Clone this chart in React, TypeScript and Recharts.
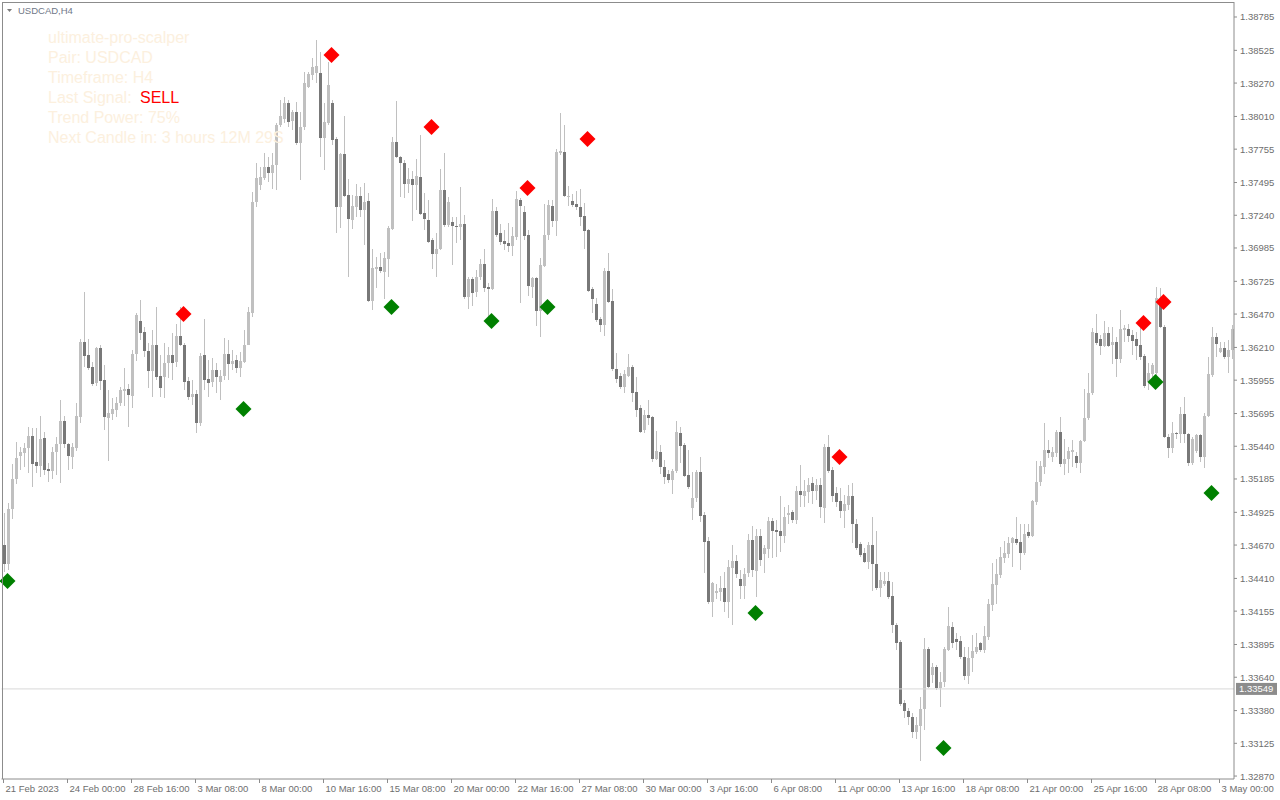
import React from "react";
import { ComposedChart, Bar, Line, XAxis, YAxis, ReferenceLine } from "recharts";

// ---- Candle data (USDCAD H4) ----
const opens = [
1.34670,1.34522,1.34951,1.35185,1.35364,1.35388,1.35426,1.35519,1.35317,1.35286,
1.35504,1.35263,1.35247,1.35395,1.35457,1.35636,1.35457,1.35356,1.35426,1.35667,
1.36252,1.36151,1.36057,1.35933,1.36206,1.35956,1.35660,1.35691,1.35722,1.35777,
1.35870,1.35886,1.35831,1.36159,1.36416,1.36330,1.36182,1.36026,1.36229,1.35987,
1.35979,1.36089,1.36151,1.36096,1.36299,1.36229,1.35948,1.35823,1.35847,1.35621,
1.36151,1.35964,1.35940,1.36034,1.35940,1.35987,1.36159,1.36081,1.36112,1.36050,
1.36096,1.36229,1.36478,1.37343,1.37476,1.37531,1.37615,1.37570,1.37631,1.37943,
1.37990,1.38115,1.37974,1.38044,1.37803,1.37927,1.38239,1.38333,1.38349,1.38349,
1.37842,1.37959,1.38115,1.37834,1.37304,1.37717,1.37398,1.37203,1.37304,1.37390,
1.37281,1.37351,1.36571,1.36821,1.36836,1.36797,1.36899,1.37133,1.37810,1.37693,
1.37647,1.37484,1.37523,1.37476,1.37538,1.37258,1.37203,1.37047,1.36938,1.36977,
1.37437,1.37164,1.37187,1.37156,1.37148,1.37172,1.36602,1.36743,1.36641,1.36758,
1.36860,1.36680,1.36665,1.37273,1.37102,1.37039,1.37024,1.37000,1.37070,1.37359,
1.37265,1.37086,1.36680,1.36751,1.36493,1.36844,1.37086,1.37312,1.37195,1.37725,
1.37732,1.37382,1.37351,1.37328,1.37304,1.37234,1.37125,1.36665,1.36548,1.36431,
1.36385,1.36805,1.36571,1.36042,1.35987,1.35901,1.35987,1.36057,1.35862,1.35738,
1.35566,1.35683,1.35667,1.35341,1.35395,1.35278,1.35224,1.35177,1.35247,1.35543,
1.35449,1.35216,1.34959,1.35037,1.35239,1.34904,1.34701,1.34226,1.34296,1.34303,
1.34335,1.34226,1.34490,1.34545,1.34405,1.34350,1.34452,1.34709,1.34467,1.34740,
1.34600,1.34639,1.34857,1.34787,1.34779,1.34740,1.34904,1.34928,1.34865,1.35091,
1.35052,1.35083,1.35154,1.35091,1.35138,1.34959,1.35433,1.35255,1.35076,1.35013,
1.34935,1.34982,1.35052,1.34834,1.34678,1.34608,1.34537,1.34670,1.34522,1.34335,
1.34366,1.34389,1.34273,1.34047,1.33914,1.33439,1.33376,1.33329,1.33212,1.33259,
1.33392,1.33860,1.33657,1.33719,1.33556,1.33602,1.33852,1.34031,1.33938,1.33922,
1.33798,1.33649,1.33790,1.33837,1.33907,1.33852,1.33954,1.34203,1.34358,1.34436,
1.34569,1.34600,1.34686,1.34717,1.34693,1.34608,1.34771,1.34740,1.35005,1.35161,
1.35278,1.35411,1.35356,1.35388,1.35550,1.35302,1.35341,1.35395,1.35364,1.35310,
1.35480,1.35660,1.35855,1.36323,1.36276,1.36221,1.36323,1.36229,1.36252,1.36120,
1.36346,1.36354,1.36307,1.36276,1.36229,1.36143,1.35940,1.36003,1.36011,1.36556,
1.36369,1.35511,1.35426,1.35543,1.35535,1.35691,1.35535,1.35310,1.35403,1.35527,
1.35356,1.35675,1.35995,1.36291,1.36174,1.36206,1.36135,1.36190,
];
const highs = [
1.34920,1.34998,1.35302,1.35472,1.35433,1.35465,1.35589,1.35582,1.35582,1.35675,
1.35550,1.35310,1.35433,1.35511,1.35800,1.35675,1.35465,1.35465,1.35777,1.36276,
1.36641,1.36276,1.36096,1.36213,1.36229,1.36073,1.35878,1.35816,1.35823,1.35901,
1.36050,1.35925,1.36190,1.36478,1.36579,1.36369,1.36245,1.36346,1.36524,1.36151,
1.36245,1.36213,1.36323,1.36393,1.36524,1.36245,1.35979,1.35956,1.35878,1.36167,
1.36431,1.36112,1.36128,1.36089,1.36034,1.36284,1.36268,1.36190,1.36151,1.36174,
1.36346,1.36524,1.37421,1.37647,1.37615,1.37725,1.37693,1.37725,1.37959,1.38138,
1.38161,1.38138,1.38060,1.38122,1.38044,1.38356,1.38356,1.38466,1.38606,1.38512,
1.38115,1.38434,1.38138,1.37849,1.37725,1.38013,1.37523,1.37398,1.37484,1.37460,
1.37492,1.37414,1.36977,1.36914,1.36946,1.36953,1.37156,1.37849,1.38130,1.37701,
1.37670,1.37608,1.37585,1.37678,1.37865,1.37414,1.37359,1.37063,1.37102,1.37600,
1.37725,1.37382,1.37226,1.37226,1.37460,1.37242,1.36758,1.36758,1.36813,1.36899,
1.36977,1.36712,1.37367,1.37304,1.37172,1.37125,1.37180,1.37148,1.37429,1.37375,
1.37312,1.37125,1.36758,1.36758,1.36907,1.37328,1.37359,1.37359,1.37756,1.38037,
1.37943,1.37468,1.37406,1.37429,1.37445,1.37336,1.37133,1.36680,1.36595,1.36446,
1.36829,1.36946,1.36665,1.36167,1.36011,1.36034,1.36159,1.36073,1.35979,1.35761,
1.35722,1.35800,1.35675,1.35558,1.35449,1.35333,1.35255,1.35263,1.35636,1.35589,
1.35465,1.35411,1.35239,1.35255,1.35356,1.34928,1.34732,1.34381,1.34366,1.34428,
1.34459,1.34553,1.34670,1.34592,1.34475,1.34490,1.34756,1.34818,1.34795,1.34795,
1.34670,1.34888,1.34881,1.34865,1.35052,1.34966,1.34982,1.34943,1.35130,1.35294,
1.35177,1.35193,1.35200,1.35185,1.35193,1.35457,1.35527,1.35278,1.35122,1.35115,
1.35060,1.35138,1.35154,1.34873,1.34693,1.34647,1.34693,1.34888,1.34779,1.34459,
1.34459,1.34459,1.34381,1.34063,1.33930,1.33462,1.33400,1.33361,1.33329,1.33485,
1.33946,1.33876,1.33751,1.33735,1.33680,1.33876,1.34187,1.34070,1.33985,1.33961,
1.33876,1.33876,1.33969,1.33985,1.33914,1.34039,1.34249,1.34530,1.34561,1.34654,
1.34701,1.34732,1.34732,1.34888,1.34834,1.34834,1.34834,1.35021,1.35325,1.35325,
1.35621,1.35488,1.35433,1.35566,1.35667,1.35496,1.35433,1.35488,1.35395,1.35488,
1.35886,1.36011,1.36361,1.36470,1.36307,1.36416,1.36369,1.36369,1.36291,1.36501,
1.36385,1.36393,1.36346,1.36330,1.36385,1.36159,1.36089,1.36089,1.36680,1.36673,
1.36385,1.35535,1.35629,1.35550,1.35745,1.35823,1.35543,1.35511,1.35535,1.35535,
1.35699,1.36135,1.36369,1.36323,1.36252,1.36252,1.36268,1.36385,
];
const lows = [
1.34459,1.34475,1.34873,1.35146,1.35255,1.35278,1.35232,1.35122,1.35232,1.35200,
1.35216,1.35161,1.35185,1.35216,1.35154,1.35426,1.35255,1.35263,1.35403,1.35621,
1.36057,1.36034,1.35909,1.35909,1.35878,1.35566,1.35325,1.35644,1.35667,1.35753,
1.35753,1.35589,1.35738,1.36104,1.36268,1.36135,1.35894,1.35823,1.35956,1.35823,
1.35816,1.35972,1.35956,1.36057,1.36221,1.35878,1.35800,1.35761,1.35543,1.35597,
1.35878,1.35823,1.35901,1.35855,1.35800,1.35956,1.35956,1.36034,1.36011,1.35979,
1.36089,1.36291,1.36446,1.37304,1.37437,1.37515,1.37499,1.37445,1.37437,1.37927,
1.37959,1.37927,1.37904,1.37787,1.37515,1.37904,1.38232,1.38294,1.38271,1.37693,
1.37593,1.37943,1.37787,1.37102,1.37141,1.37382,1.36758,1.37133,1.37226,1.37226,
1.37008,1.36563,1.36501,1.36673,1.36790,1.36587,1.36758,1.37125,1.37686,1.37382,
1.37375,1.37414,1.37195,1.37281,1.37242,1.37125,1.37024,1.36821,1.36758,1.36969,
1.37148,1.37148,1.36852,1.37024,1.37047,1.36587,1.36509,1.36532,1.36602,1.36735,
1.36641,1.36446,1.36657,1.37070,1.37008,1.36969,1.36953,1.36922,1.37047,1.36556,
1.37047,1.36610,1.36595,1.36377,1.36291,1.36836,1.37047,1.37148,1.37078,1.37709,
1.37382,1.37312,1.37304,1.37281,1.37156,1.36977,1.36641,1.36478,1.36408,1.36330,
1.36299,1.36556,1.36026,1.35933,1.35886,1.35855,1.35979,1.35784,1.35667,1.35543,
1.35543,1.35605,1.35317,1.35333,1.35224,1.35146,1.35154,1.35068,1.35232,1.35310,
1.35200,1.35107,1.34865,1.35005,1.34849,1.34452,1.34211,1.34109,1.34249,1.34234,
1.34148,1.34101,1.34047,1.34413,1.34249,1.34249,1.34420,1.34420,1.34265,1.34506,
1.34452,1.34569,1.34569,1.34576,1.34615,1.34686,1.34834,1.34841,1.34834,1.34966,
1.34966,1.34998,1.34990,1.35021,1.34881,1.34841,1.35232,1.35005,1.34966,1.34881,
1.34803,1.34943,1.34686,1.34631,1.34576,1.34530,1.34483,1.34311,1.34319,1.34265,
1.34350,1.34249,1.33985,1.33852,1.33415,1.33321,1.33267,1.33166,1.33158,1.32987,
1.33228,1.33556,1.33594,1.33540,1.33407,1.33563,1.33844,1.33868,1.33852,1.33782,
1.33618,1.33587,1.33680,1.33821,1.33837,1.33829,1.33930,1.34156,1.34211,1.34413,
1.34530,1.34569,1.34498,1.34670,1.34475,1.34592,1.34724,1.34732,1.34982,1.35130,
1.35224,1.35349,1.35317,1.35356,1.35278,1.35216,1.35232,1.35278,1.35270,1.35232,
1.35472,1.35644,1.35839,1.36229,1.36151,1.36213,1.36213,1.36081,1.35979,1.36089,
1.36252,1.36252,1.36151,1.36112,1.36112,1.35894,1.35878,1.35979,1.35972,1.36361,
1.35504,1.35349,1.35388,1.35496,1.35465,1.35465,1.35286,1.35294,1.35388,1.35317,
1.35270,1.35667,1.35979,1.36135,1.36167,1.36120,1.36011,1.36120,
];
const closes = [
1.34522,1.34951,1.35185,1.35349,1.35395,1.35426,1.35519,1.35302,1.35286,1.35496,
1.35255,1.35247,1.35395,1.35457,1.35636,1.35457,1.35364,1.35433,1.35675,1.36252,
1.36143,1.36050,1.35925,1.36206,1.35948,1.35667,1.35699,1.35730,1.35777,1.35878,
1.35886,1.35839,1.36159,1.36462,1.36323,1.36182,1.36026,1.36229,1.35979,1.35894,
1.36089,1.36151,1.36089,1.36299,1.36229,1.35940,1.35823,1.35847,1.35621,1.36143,
1.35956,1.35933,1.36034,1.35979,1.35987,1.36159,1.36081,1.36104,1.36050,1.36104,
1.36229,1.36485,1.37343,1.37531,1.37538,1.37615,1.37570,1.37631,1.37943,1.38013,
1.38115,1.37966,1.38044,1.37803,1.37927,1.38271,1.38341,1.38395,1.38403,1.37842,
1.37966,1.38255,1.37826,1.37304,1.37717,1.37390,1.37211,1.37312,1.37390,1.37281,
1.37343,1.36571,1.36829,1.36836,1.36805,1.36907,1.37141,1.37810,1.37693,1.37647,
1.37484,1.37523,1.37476,1.37546,1.37250,1.37211,1.37031,1.36938,1.36977,1.37437,
1.37164,1.37343,1.37156,1.37148,1.37172,1.36602,1.36743,1.36634,1.36758,1.36860,
1.36673,1.36665,1.37273,1.37086,1.37031,1.37016,1.37000,1.37078,1.37367,1.37312,
1.37078,1.36688,1.36751,1.36493,1.36852,1.37086,1.37320,1.37195,1.37732,1.37740,
1.37390,1.37390,1.37320,1.37304,1.37226,1.37117,1.36649,1.36587,1.36424,1.36385,
1.36805,1.36563,1.36042,1.35964,1.35901,1.36003,1.36057,1.35855,1.35722,1.35550,
1.35683,1.35660,1.35341,1.35403,1.35278,1.35200,1.35177,1.35247,1.35550,1.35441,
1.35208,1.35122,1.35037,1.35239,1.34896,1.34693,1.34226,1.34374,1.34311,1.34335,
1.34226,1.34498,1.34545,1.34444,1.34350,1.34444,1.34709,1.34475,1.34740,1.34553,
1.34647,1.34857,1.34779,1.34771,1.34740,1.34888,1.34920,1.34865,1.35091,1.35060,
1.35091,1.35138,1.35091,1.35138,1.34966,1.35433,1.35247,1.35052,1.35005,1.34935,
1.34990,1.35052,1.34834,1.34647,1.34592,1.34537,1.34670,1.34522,1.34335,1.34397,
1.34389,1.34265,1.34047,1.33907,1.33431,1.33376,1.33329,1.33212,1.33267,1.33392,
1.33860,1.33563,1.33719,1.33556,1.33602,1.33860,1.34039,1.33907,1.33914,1.33798,
1.33649,1.33790,1.33844,1.33876,1.33852,1.33961,1.34211,1.34366,1.34444,1.34576,
1.34608,1.34686,1.34725,1.34686,1.34608,1.34756,1.34740,1.35013,1.35161,1.35286,
1.35411,1.35388,1.35395,1.35550,1.35302,1.35341,1.35403,1.35411,1.35310,1.35480,
1.35660,1.35855,1.36330,1.36245,1.36221,1.36323,1.36221,1.36252,1.36120,1.36354,
1.36361,1.36299,1.36260,1.36221,1.36135,1.35909,1.36011,1.36073,1.36595,1.36369,
1.35511,1.35426,1.35543,1.35535,1.35691,1.35535,1.35310,1.35496,1.35527,1.35356,
1.35675,1.36003,1.36291,1.36237,1.36206,1.36135,1.36190,1.36354,
];

// ---- Signals (diamonds) ----
const sellIdx = [45, 82, 107, 131, 146, 209, 285, 290];
const sellPrice = [1.36470, 1.38489, 1.37928, 1.37452, 1.37834, 1.35356, 1.36400, 1.36564];
const buyIdx = [1, 60, 97, 122, 136, 188, 235, 288, 302];
const buyPrice = [1.34390, 1.35730, 1.36525, 1.36416, 1.36525, 1.34140, 1.33088, 1.35940, 1.35075];

// ---- Axes ----
const xTickLabels = [
  "21 Feb 2023", "24 Feb 00:00", "28 Feb 16:00", "3 Mar 08:00", "8 Mar 00:00",
  "10 Mar 16:00", "15 Mar 08:00", "20 Mar 00:00", "22 Mar 16:00", "27 Mar 08:00",
  "30 Mar 00:00", "3 Apr 16:00", "6 Apr 08:00", "11 Apr 00:00", "13 Apr 16:00",
  "18 Apr 08:00", "21 Apr 00:00", "25 Apr 16:00", "28 Apr 08:00", "3 May 00:00",
];
const yTicks = [
  1.38785, 1.38525, 1.3827, 1.3801, 1.37755, 1.37495, 1.3724, 1.36985, 1.36725,
  1.3647, 1.3621, 1.35955, 1.35695, 1.3544, 1.35185, 1.34925, 1.3467, 1.3441,
  1.34155, 1.33895, 1.3364, 1.3338, 1.33125, 1.3287,
];
const bidPrice = 1.33549;
const Y_MIN = 1.32847;
const Y_MAX = 1.38894;

const infoLines = [
  "ultimate-pro-scalper",
  "Pair: USDCAD",
  "Timeframe: H4",
  "Last Signal: ",
  "Trend Power: 75%",
  "Next Candle in: 3 hours 12M 29S",
];

const WICK = "#c0c0c0";
const BULL = "#c0c0c0";
const BEAR = "#787878";
const AXIS = "#8c8c8c";
const LABEL = "#6e6e6e";
const INFO = "#fcf0de";
const FONT = "'Liberation Sans', Arial, sans-serif";

type Row = { i: number; o: number; h: number; l: number; c: number; sell: number | null; buy: number | null };

const data: Row[] = opens.map((o, i) => ({
  i,
  o,
  h: highs[i],
  l: lows[i],
  c: closes[i],
  sell: null,
  buy: null,
}));
sellIdx.forEach((idx, k) => {
  data[idx].sell = sellPrice[k];
});
buyIdx.forEach((idx, k) => {
  data[idx].buy = buyPrice[k];
});

function Candle(props: any) {
  const { x, y, width, height, payload } = props;
  if (x == null || y == null || !payload) return <g />;
  const { o, h, l, c } = payload as Row;
  const top0 = Math.min(y, y + height);
  const hgt = Math.abs(height);
  const cx = Math.floor(x + width / 2);
  const span = h - l;
  const py = (v: number) => (span > 0 ? top0 + ((h - v) / span) * hgt : top0);
  const bull = c >= o;
  const bt = Math.round(py(Math.max(o, c)));
  const bb = Math.round(py(Math.min(o, c)));
  const wt = Math.round(top0);
  const wb = Math.round(top0 + hgt);
  return (
    <g>
      <rect x={cx} y={wt} width={1} height={Math.max(1, wb - wt)} fill={WICK} />
      <rect x={cx - 1} y={bt} width={3} height={Math.max(1, bb - bt)} fill={bull ? BULL : BEAR} />
    </g>
  );
}

const makeDiamond = (color: string, key: "sell" | "buy") => (props: any) => {
  const { cx, cy, index, payload } = props;
  if (!payload || payload[key] == null || cy == null || isNaN(cy)) return <g key={`${key}-${index}`} />;
  const r = 8;
  const pts = `${cx},${cy - r} ${cx + r},${cy} ${cx},${cy + r} ${cx - r},${cy}`;
  return <polygon key={`${key}-${index}`} points={pts} fill={color} />;
};

function XTick(props: any) {
  const { x, y, payload } = props;
  const label = xTickLabels[Math.round(payload.value / 16)] ?? "";
  return (
    <text x={x + 2} y={y + 9} fontSize={9.5} fontFamily={FONT} fill={LABEL} textAnchor="start">
      {label}
    </text>
  );
}

function YTick(props: any) {
  const { x, y, payload } = props;
  return (
    <text x={x} y={y + 3.5} fontSize={9.5} fontFamily={FONT} fill={LABEL} textAnchor="start">
      {Number(payload.value).toFixed(5)}
    </text>
  );
}

function BidLabel(props: any) {
  const vb = props.viewBox || {};
  const x = (vb.x ?? 0) + (vb.width ?? 0) + 2;
  const y = vb.y ?? 0;
  return (
    <g>
      <rect x={x} y={y - 6} width={41} height={12} fill="#8c8c8c" />
      <text x={x + 3} y={y + 3.5} fontSize={9.5} fontFamily={FONT} fill="#ffffff">
        {bidPrice.toFixed(5)}
      </text>
    </g>
  );
}

export default function App() {
  return (
    <div style={{ position: "absolute", left: 0, top: 0, width: 1280, height: 800, background: "#ffffff" }}>
      <ComposedChart
        width={1280}
        height={800}
        data={data}
        margin={{ top: 3, right: 0, bottom: 0, left: 1.5 }}
        barSize={3}
        barGap={0}
        barCategoryGap={0}
      >
        <XAxis
          dataKey="i"
          type="category"
          interval={15}
          height={21}
          tickSize={4}
          tickMargin={0}
          tick={<XTick />}
          tickLine={{ stroke: AXIS }}
          axisLine={{ stroke: AXIS }}
          padding={{ left: 0, right: 0.5 }}
        />
        <YAxis
          orientation="right"
          width={46}
          domain={[Y_MIN, Y_MAX]}
          allowDataOverflow
          ticks={yTicks}
          interval={0}
          tickSize={3}
          tickMargin={3}
          tick={<YTick />}
          tickLine={{ stroke: AXIS }}
          axisLine={{ stroke: AXIS }}
        />
        <ReferenceLine y={bidPrice} stroke="#d8d8d8" strokeWidth={1} label={<BidLabel />} />
        <Bar dataKey={(d: Row) => [d.l, d.h]} shape={(p: any) => <Candle {...p} />} isAnimationActive={false} />
        <Line
          dataKey="sell"
          stroke="none"
          isAnimationActive={false}
          dot={makeDiamond("#ff0000", "sell")}
          activeDot={false}
          connectNulls={false}
        />
        <Line
          dataKey="buy"
          stroke="none"
          isAnimationActive={false}
          dot={makeDiamond("#008000", "buy")}
          activeDot={false}
          connectNulls={false}
        />
      </ComposedChart>
      <svg
        width={1280}
        height={800}
        style={{ position: "absolute", left: 0, top: 0, pointerEvents: "none" }}
      >
        <line x1={2.5} y1={2} x2={2.5} y2={779} stroke={AXIS} strokeWidth={1} />
        <line x1={2} y1={2.5} x2={1234.5} y2={2.5} stroke={AXIS} strokeWidth={1} />
        <polygon points="7,9 12,9 9.5,12" fill="#7a7a7a" />
        <text x={18} y={14} fontSize={9.5} fontFamily={FONT} fill="#707888">
          USDCAD,H4
        </text>
        {infoLines.map((t, k) => (
          <text key={k} x={48} y={43 + 20 * k} fontSize={16} fontFamily={FONT} fill={INFO}>
            {t}
          </text>
        ))}
        <text x={140} y={103} fontSize={16} fontFamily={FONT} fill="#ff0000">
          SELL
        </text>
      </svg>
    </div>
  );
}
